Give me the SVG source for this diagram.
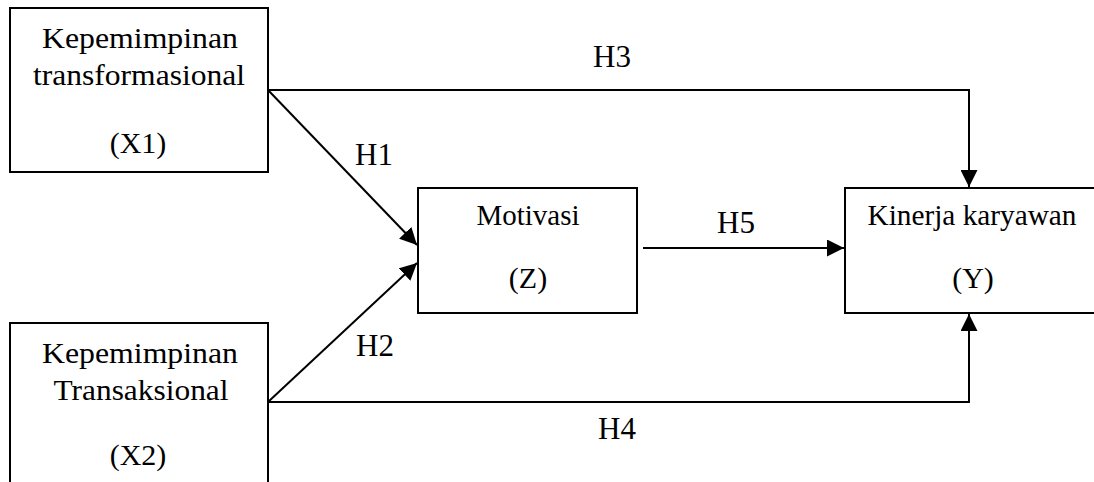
<svg xmlns="http://www.w3.org/2000/svg" width="1094" height="482" viewBox="0 0 1094 482">
  <style>
    .box { fill: #ffffff; stroke: #000000; stroke-width: 2; }
    .t { font-family: 'Liberation Serif', 'Times New Roman', Tinos, 'DejaVu Serif', serif; font-size: 30px; fill: #000000; text-anchor: middle; }
    .lbl { font-family: 'Liberation Serif', 'Times New Roman', Tinos, 'DejaVu Serif', serif; font-size: 31px; fill: #000000; text-anchor: middle; }
    .ln { fill: none; stroke: #000000; stroke-width: 2; }
  </style>
  <defs>
    <marker id="arr" viewBox="0 0 16 16" refX="16" refY="8" markerWidth="17" markerHeight="17" markerUnits="userSpaceOnUse" orient="auto">
      <path d="M0,0 L16,8 L0,16 Z" fill="#000000"/>
    </marker>
  </defs>
  <rect width="1094" height="482" fill="#ffffff"/>

  <g id="connectors">
    <polyline id="h3" class="ln" points="268,90 969,90 969,187" marker-end="url(#arr)"/>
    <line id="h1" class="ln" x1="268" y1="90" x2="417" y2="245" marker-end="url(#arr)"/>
    <line id="h2" class="ln" x1="268" y1="402" x2="417" y2="263" marker-end="url(#arr)"/>
    <polyline id="h4" class="ln" points="268,402 969,402 969,314" marker-end="url(#arr)"/>
    <line id="h5" class="ln" x1="643" y1="248" x2="844" y2="248" marker-end="url(#arr)"/>
    <text class="lbl" x="612" y="67" font-family="Liberation Serif, serif">H3</text>
    <text class="lbl" x="374" y="165" font-family="Liberation Serif, serif">H1</text>
    <text class="lbl" x="375" y="356" font-family="Liberation Serif, serif">H2</text>
    <text class="lbl" x="617" y="439" font-family="Liberation Serif, serif">H4</text>
    <text class="lbl" x="736" y="233" font-family="Liberation Serif, serif">H5</text>
  </g>

  <g id="node-x1">
    <rect class="box" x="10" y="8" width="258" height="164"/>
    <text class="t" x="140" y="48" textLength="196" lengthAdjust="spacingAndGlyphs">Kepemimpinan</text>
    <text class="t" x="139" y="85" textLength="212" lengthAdjust="spacingAndGlyphs">transformasional</text>
    <text class="t" x="138" y="153">(X1)</text>
  </g>

  <g id="node-x2">
    <rect class="box" x="10" y="323" width="258" height="180"/>
    <text class="t" x="140" y="363" textLength="196" lengthAdjust="spacingAndGlyphs">Kepemimpinan</text>
    <text class="t" x="141" y="400" textLength="175" lengthAdjust="spacingAndGlyphs">Transaksional</text>
    <text class="t" x="138" y="465">(X2)</text>
  </g>

  <g id="node-z">
    <rect class="box" x="418" y="188" width="219" height="125"/>
    <text class="t" x="528" y="225" textLength="103" lengthAdjust="spacingAndGlyphs">Motivasi</text>
    <text class="t" x="528" y="288">(Z)</text>
  </g>

  <g id="node-y">
    <rect class="box" x="845" y="188" width="262" height="125"/>
    <text class="t" x="972" y="225" textLength="209" lengthAdjust="spacingAndGlyphs">Kinerja karyawan</text>
    <text class="t" x="973" y="288">(Y)</text>
  </g>
</svg>
